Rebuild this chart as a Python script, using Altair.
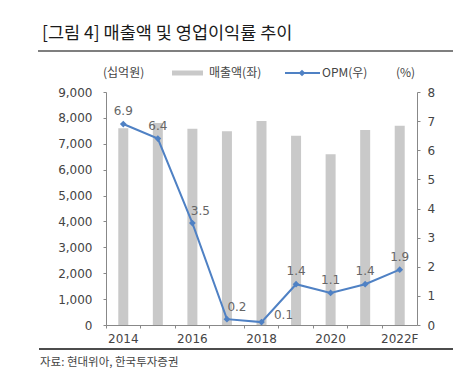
import altair as alt
import pandas as pd

years = ["2014", "2015", "2016", "2017", "2018", "2019", "2020", "2021", "2022F"]
sales = [7596, 7806, 7585, 7487, 7880, 7314, 6592, 7529, 7700]
opm = [6.9, 6.4, 3.5, 0.2, 0.1, 1.4, 1.1, 1.4, 1.9]
shown_labels = ["2014", "2016", "2018", "2020", "2022F"]

title_text = "[그림 4] 매출액 및 영업이익률 추이"
source_text = "자료: 현대위아, 한국투자증권"
unit_left = "(십억원)"
unit_right = "(%)"
legend_bar = "매출액(좌)"
legend_line = "OPM(우)"

df = pd.DataFrame({"year": years, "sales": sales, "opm": opm})

FONT = "DejaVu Sans"
KFONT = "Noto Sans CJK KR"
BAR_C = "#c9c9c9"
LINE_C = "#4f81c4"
TXT = "#444444"

x_enc = alt.X(
    "year:N",
    sort=years,
    title=None,
    scale=alt.Scale(paddingInner=0, paddingOuter=0),
    axis=alt.Axis(
        labelExpr="indexof(" + str(shown_labels) + ", datum.value) >= 0 ? datum.value : ''",
        labelAngle=0,
        bandPosition=0,
        tickSize=3,
        labelPadding=5,
        domainColor="#888888",
        tickColor="#888888",
        labelFont=FONT,
        labelFontSize=12,
        labelColor=TXT,
    ),
)

base = alt.Chart(df)

bars = base.mark_bar(size=10, color=BAR_C).encode(
    x=x_enc,
    y=alt.Y(
        "sales:Q",
        title=None,
        scale=alt.Scale(domain=[0, 9000], nice=False),
        axis=alt.Axis(
            orient="left",
            values=list(range(0, 9001, 1000)),
            format=",.0f",
            grid=False,
            tickSize=3,
            labelPadding=11,
            domainColor="#888888",
            tickColor="#888888",
            labelFont=FONT,
            labelFontSize=12,
            labelColor=TXT,
        ),
    ),
)

y_r = alt.Y(
    "opm:Q",
    title=None,
    scale=alt.Scale(domain=[0, 8], nice=False),
    axis=alt.Axis(
        orient="right",
        values=list(range(0, 9)),
        format="d",
        grid=False,
        tickSize=3,
        labelPadding=7,
        domainColor="#888888",
        tickColor="#888888",
        labelFont=FONT,
        labelFontSize=12,
        labelColor=TXT,
    ),
)

line = base.mark_line(color=LINE_C, strokeWidth=2).encode(x=alt.X("year:N", sort=years), y=y_r)
pts = base.mark_point(shape="diamond", filled=True, color=LINE_C, size=45, opacity=1).encode(
    x=alt.X("year:N", sort=years), y=y_r
)

lab_style = dict(font=FONT, fontSize=12, color="#666666", baseline="middle")
lab_main = base.mark_text(dy=-13, **lab_style).encode(
    x=alt.X("year:N", sort=years), y=y_r, text=alt.Text("opm:Q", format=".1f")
).transform_filter("indexof(['2016','2017','2018'], datum.year) < 0")
lab_a = base.mark_text(dy=-12, dx=8, **lab_style).encode(
    x=alt.X("year:N", sort=years), y=y_r, text=alt.Text("opm:Q", format=".1f")
).transform_filter("datum.year == '2016'")
lab_b = base.mark_text(dy=-12, dx=10, **lab_style).encode(
    x=alt.X("year:N", sort=years), y=y_r, text=alt.Text("opm:Q", format=".1f")
).transform_filter("datum.year == '2017'")
lab_c = base.mark_text(dy=-7, dx=22, **lab_style).encode(
    x=alt.X("year:N", sort=years), y=y_r, text=alt.Text("opm:Q", format=".1f")
).transform_filter("datum.year == '2018'")

right_layer = alt.layer(line, pts, lab_main, lab_a, lab_b, lab_c)

one = pd.DataFrame({"a": [0]})


def txt(s, x, y, size=12, font=KFONT, color=TXT, align="left", weight="normal"):
    return alt.Chart(pd.DataFrame({"t": [s]})).mark_text(
        font=font, fontSize=size, color=color, align=align, baseline="middle", fontWeight=weight
    ).encode(text="t:N", x=alt.value(x), y=alt.value(y))


title = txt(title_text, -64, -58, size=17.5, color="#1a1a1a")
top_rule = alt.Chart(one).mark_rule(color="#555555", strokeWidth=1.5).encode(
    x=alt.value(-68), x2=alt.value(355), y=alt.value(-41)
)
bot_rule = alt.Chart(one).mark_rule(color="#111111", strokeWidth=1.5).encode(
    x=alt.value(-67), x2=alt.value(355), y=alt.value(257)
)
source = txt(source_text, -66, 271, size=11.5, color="#444444")
u_left = txt(unit_left, -3, -19)
u_right = txt(unit_right, 290, -19)
leg_bar_sw = alt.Chart(one).mark_rect(color=BAR_C).encode(
    x=alt.value(66), x2=alt.value(97), y=alt.value(-21.5), y2=alt.value(-16.5)
)
leg_bar_t = txt(legend_bar, 103, -19)
leg_line_sw = alt.Chart(one).mark_rule(color=LINE_C, strokeWidth=2).encode(
    x=alt.value(179), x2=alt.value(214), y=alt.value(-19)
)
leg_line_pt = alt.Chart(one).mark_point(shape="diamond", filled=True, color=LINE_C, size=45, opacity=1).encode(
    x=alt.value(196), y=alt.value(-19)
)
leg_line_t = txt(legend_line, 216, -19)

chart = (
    alt.layer(
        bars,
        right_layer,
        title,
        top_rule,
        bot_rule,
        source,
        u_left,
        u_right,
        leg_bar_sw,
        leg_bar_t,
        leg_line_sw,
        leg_line_pt,
        leg_line_t,
    )
    .resolve_scale(y="independent")
    .properties(
        width=311,
        height=233,
        padding={"left": 98, "top": 84, "right": 36, "bottom": 44},
        autosize=alt.AutoSizeParams(type="none"),
        background="white",
    )
    .configure_view(stroke=None)
)

chart.save("out.html", embed_options={"renderer": "svg", "actions": False})
